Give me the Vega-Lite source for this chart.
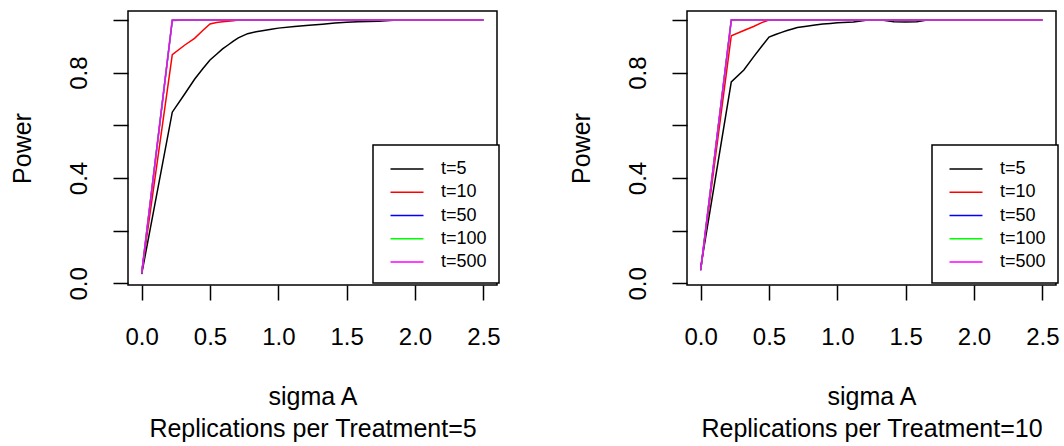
{
  "$schema": "https://vega.github.io/schema/vega-lite/v6.json",
  "autosize": {"type": "pad"},
  "padding": {"left": 9, "top": 10, "right": 0, "bottom": 0},
  "bounds": "flush",
  "spacing": 190,
  "background": "white",
  "config": {
    "font": "Liberation Sans",
    "view": {"stroke": "black", "strokeWidth": 1.5},
    "axis": {
      "domain": false, "grid": false, "tickSize": 15, "tickColor": "black", "tickWidth": 1.5,
      "labelFont": "Liberation Sans", "labelFontSize": 24, "labelColor": "black",
      "titleFont": "Liberation Sans", "titleFontSize": 25, "titleFontWeight": "normal", "titleColor": "black",
      "labelFlush": false, "labelOverlap": false
    },
    "axisX": {"labelAngle": 0, "labelBaseline": "alphabetic", "labelPadding": 44, "titleBaseline": "alphabetic", "titleY": 119.5, "titleLineHeight": 31.7},
    "axisY": {"labelAngle": -90, "labelAlign": "center", "labelBaseline": "alphabetic", "labelPadding": 27, "titleAngle": -90, "titleBaseline": "alphabetic", "titleX": -98},
    "legend": {"labelFont": "Liberation Sans"}
  },
  "datasets": {
    "r5": [
      {"t": "t=5", "sigma": 0, "power": 0.035},
      {"t": "t=5", "sigma": 0.224, "power": 0.65},
      {"t": "t=5", "sigma": 0.316, "power": 0.72},
      {"t": "t=5", "sigma": 0.387, "power": 0.775},
      {"t": "t=5", "sigma": 0.447, "power": 0.815},
      {"t": "t=5", "sigma": 0.5, "power": 0.848},
      {"t": "t=5", "sigma": 0.548, "power": 0.87},
      {"t": "t=5", "sigma": 0.592, "power": 0.89},
      {"t": "t=5", "sigma": 0.632, "power": 0.905},
      {"t": "t=5", "sigma": 0.671, "power": 0.92},
      {"t": "t=5", "sigma": 0.707, "power": 0.932},
      {"t": "t=5", "sigma": 0.775, "power": 0.948},
      {"t": "t=5", "sigma": 0.837, "power": 0.955},
      {"t": "t=5", "sigma": 0.894, "power": 0.96},
      {"t": "t=5", "sigma": 0.949, "power": 0.965},
      {"t": "t=5", "sigma": 1.0, "power": 0.969},
      {"t": "t=5", "sigma": 1.118, "power": 0.975},
      {"t": "t=5", "sigma": 1.225, "power": 0.98},
      {"t": "t=5", "sigma": 1.323, "power": 0.984},
      {"t": "t=5", "sigma": 1.414, "power": 0.988},
      {"t": "t=5", "sigma": 1.5, "power": 0.991},
      {"t": "t=5", "sigma": 1.581, "power": 0.993},
      {"t": "t=5", "sigma": 1.732, "power": 0.995},
      {"t": "t=5", "sigma": 1.871, "power": 1.0},
      {"t": "t=5", "sigma": 2.0, "power": 1.0},
      {"t": "t=5", "sigma": 2.5, "power": 1.0},
      {"t": "t=10", "sigma": 0, "power": 0.038},
      {"t": "t=10", "sigma": 0.224, "power": 0.868},
      {"t": "t=10", "sigma": 0.316, "power": 0.905},
      {"t": "t=10", "sigma": 0.387, "power": 0.93},
      {"t": "t=10", "sigma": 0.447, "power": 0.96},
      {"t": "t=10", "sigma": 0.5, "power": 0.985},
      {"t": "t=10", "sigma": 0.548, "power": 0.99},
      {"t": "t=10", "sigma": 0.592, "power": 0.993},
      {"t": "t=10", "sigma": 0.632, "power": 0.995},
      {"t": "t=10", "sigma": 0.671, "power": 0.997},
      {"t": "t=10", "sigma": 0.707, "power": 1.0},
      {"t": "t=10", "sigma": 2.5, "power": 1.0},
      {"t": "t=50", "sigma": 0, "power": 0.038},
      {"t": "t=50", "sigma": 0.224, "power": 0.998},
      {"t": "t=50", "sigma": 0.316, "power": 1.0},
      {"t": "t=50", "sigma": 2.5, "power": 1.0},
      {"t": "t=100", "sigma": 0, "power": 0.038},
      {"t": "t=100", "sigma": 0.224, "power": 1.0},
      {"t": "t=100", "sigma": 2.5, "power": 1.0},
      {"t": "t=500", "sigma": 0, "power": 0.038},
      {"t": "t=500", "sigma": 0.224, "power": 1.0},
      {"t": "t=500", "sigma": 2.5, "power": 1.0}
    ],
    "r10": [
      {"t": "t=5", "sigma": 0, "power": 0.06},
      {"t": "t=5", "sigma": 0.224, "power": 0.765},
      {"t": "t=5", "sigma": 0.316, "power": 0.81},
      {"t": "t=5", "sigma": 0.387, "power": 0.86},
      {"t": "t=5", "sigma": 0.447, "power": 0.9},
      {"t": "t=5", "sigma": 0.5, "power": 0.935},
      {"t": "t=5", "sigma": 0.548, "power": 0.945},
      {"t": "t=5", "sigma": 0.592, "power": 0.953},
      {"t": "t=5", "sigma": 0.632, "power": 0.96},
      {"t": "t=5", "sigma": 0.671, "power": 0.966},
      {"t": "t=5", "sigma": 0.707, "power": 0.971},
      {"t": "t=5", "sigma": 0.775, "power": 0.976},
      {"t": "t=5", "sigma": 0.837, "power": 0.981},
      {"t": "t=5", "sigma": 0.894, "power": 0.985},
      {"t": "t=5", "sigma": 0.949, "power": 0.987},
      {"t": "t=5", "sigma": 1.0, "power": 0.989},
      {"t": "t=5", "sigma": 1.118, "power": 0.992},
      {"t": "t=5", "sigma": 1.225, "power": 1.0},
      {"t": "t=5", "sigma": 1.323, "power": 1.0},
      {"t": "t=5", "sigma": 1.414, "power": 0.993},
      {"t": "t=5", "sigma": 1.5, "power": 0.992},
      {"t": "t=5", "sigma": 1.581, "power": 0.993},
      {"t": "t=5", "sigma": 1.658, "power": 1.0},
      {"t": "t=5", "sigma": 2.5, "power": 1.0},
      {"t": "t=10", "sigma": 0, "power": 0.05},
      {"t": "t=10", "sigma": 0.224, "power": 0.94},
      {"t": "t=10", "sigma": 0.316, "power": 0.96},
      {"t": "t=10", "sigma": 0.387, "power": 0.975},
      {"t": "t=10", "sigma": 0.447, "power": 0.99},
      {"t": "t=10", "sigma": 0.5, "power": 1.0},
      {"t": "t=10", "sigma": 2.5, "power": 1.0},
      {"t": "t=50", "sigma": 0, "power": 0.05},
      {"t": "t=50", "sigma": 0.224, "power": 1.0},
      {"t": "t=50", "sigma": 2.5, "power": 1.0},
      {"t": "t=100", "sigma": 0, "power": 0.05},
      {"t": "t=100", "sigma": 0.224, "power": 0.998},
      {"t": "t=100", "sigma": 0.316, "power": 1.0},
      {"t": "t=100", "sigma": 2.5, "power": 1.0},
      {"t": "t=500", "sigma": 0, "power": 0.05},
      {"t": "t=500", "sigma": 0.224, "power": 1.0},
      {"t": "t=500", "sigma": 2.5, "power": 1.0}
    ]
  },
  "resolve": {"scale": {"color": "independent"}, "legend": {"color": "independent"}},
  "hconcat": [
    {
      "width": 369, "height": 274,
      "data": {"name": "r5"},
      "mark": {"type": "line", "strokeWidth": 1.5},
      "encoding": {
        "x": {"field": "sigma", "type": "quantitative", "scale": {"domain": [-0.1, 2.6], "nice": false, "zero": false},
              "axis": {"values": [0, 0.5, 1, 1.5, 2, 2.5], "format": ".1f", "title": ["sigma A", "Replications per Treatment=5"]}},
        "y": {"field": "power", "type": "quantitative", "scale": {"domain": [-0.006, 1.034], "nice": false, "zero": false},
              "axis": {"values": [0, 0.2, 0.4, 0.6, 0.8, 1], "labelExpr": "(abs(datum.value) < 0.001 || abs(datum.value - 0.4) < 0.001 || abs(datum.value - 0.8) < 0.001) ? format(datum.value, '.1f') : ''", "title": "Power"}},
        "color": {"field": "t", "type": "nominal",
                  "scale": {"domain": ["t=5", "t=10", "t=50", "t=100", "t=500"], "range": ["#000000", "#FF0000", "#0000FF", "#00FF00", "#FF00FF"]},
                  "legend": {"title": " ", "titleFontSize": 1, "titlePadding": 2, "orient": "none", "legendX": 245, "legendY": 134, "strokeColor": "black", "fillColor": "white", "padding": 12, "symbolType": "M-2,0H2", "symbolSize": 272, "symbolStrokeWidth": 1.5, "symbolOffset": 13, "labelOffset": 25, "labelFontSize": 18, "labelColor": "black", "rowPadding": 5.25,
                             "encode": {"legend": {"update": {"strokeWidth": {"value": 1.5}}}}}}
      }
    },
    {
      "width": 369, "height": 274,
      "data": {"name": "r10"},
      "mark": {"type": "line", "strokeWidth": 1.5},
      "encoding": {
        "x": {"field": "sigma", "type": "quantitative", "scale": {"domain": [-0.1, 2.6], "nice": false, "zero": false},
              "axis": {"values": [0, 0.5, 1, 1.5, 2, 2.5], "format": ".1f", "title": ["sigma A", "Replications per Treatment=10"]}},
        "y": {"field": "power", "type": "quantitative", "scale": {"domain": [-0.006, 1.034], "nice": false, "zero": false},
              "axis": {"values": [0, 0.2, 0.4, 0.6, 0.8, 1], "labelExpr": "(abs(datum.value) < 0.001 || abs(datum.value - 0.4) < 0.001 || abs(datum.value - 0.8) < 0.001) ? format(datum.value, '.1f') : ''", "title": "Power"}},
        "color": {"field": "t", "type": "nominal",
                  "scale": {"domain": ["t=5", "t=10", "t=50", "t=100", "t=500"], "range": ["#000000", "#FF0000", "#0000FF", "#00FF00", "#FF00FF"]},
                  "legend": {"title": " ", "titleFontSize": 1, "titlePadding": 2, "orient": "none", "legendX": 245, "legendY": 134, "strokeColor": "black", "fillColor": "white", "padding": 12, "symbolType": "M-2,0H2", "symbolSize": 272, "symbolStrokeWidth": 1.5, "symbolOffset": 13, "labelOffset": 25, "labelFontSize": 18, "labelColor": "black", "rowPadding": 5.25,
                             "encode": {"legend": {"update": {"strokeWidth": {"value": 1.5}}}}}}
      }
    }
  ]
}
